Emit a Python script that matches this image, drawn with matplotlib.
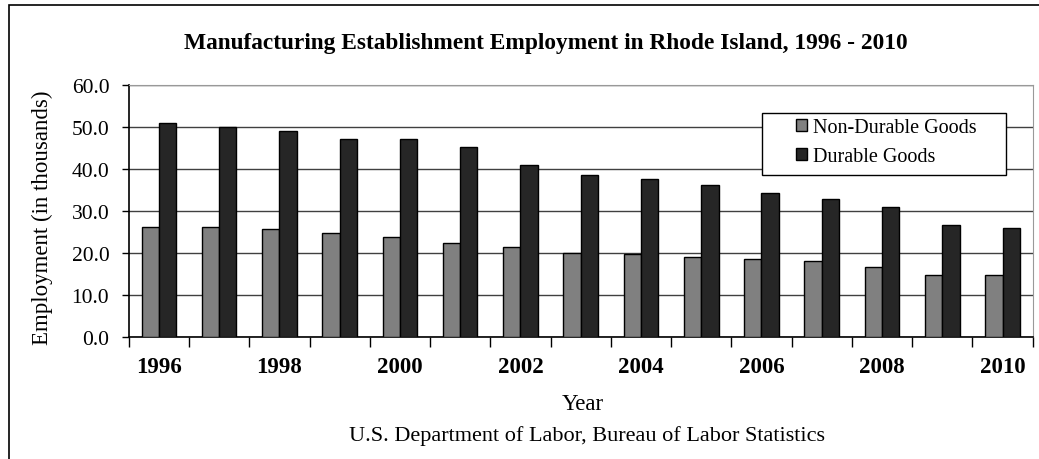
import matplotlib
matplotlib.use("Agg")
import numpy as np
import matplotlib.pyplot as plt
from matplotlib.patches import Rectangle

# Employment (in thousands)
years = [1996, 1997, 1998, 1999, 2000, 2001, 2002, 2003,
         2004, 2005, 2006, 2007, 2008, 2009, 2010]
non_durable = [26.2, 26.2, 25.7, 24.7, 23.8, 22.4, 21.5, 20.0,
               19.6, 19.1, 18.6, 18.1, 16.7, 14.8, 14.8]
durable = [51.0, 50.1, 49.1, 47.2, 47.2, 45.3, 40.9, 38.6,
           37.7, 36.2, 34.3, 32.9, 31.0, 26.7, 25.8]
y_ticks = [0, 10, 20, 30, 40, 50, 60]

plt.rcParams['font.family'] = ['Liberation Serif', 'DejaVu Serif']

fig = plt.figure(figsize=(10.39, 4.6), dpi=100)
ax = fig.add_axes([0.1239, 0.2659, 0.8700, 0.5471])

x = np.arange(len(years))
w = 0.287
ax.bar(x - w / 2, non_durable, w, color='#808080', edgecolor='black',
       linewidth=1, label='Non-Durable Goods', zorder=3)
ax.bar(x + w / 2, durable, w, color='#262626', edgecolor='black',
       linewidth=1, label='Durable Goods', zorder=3)

ax.set_xlim(-0.5, len(years) - 0.5)
ax.set_ylim(0, 60)

# y axis
ax.set_yticks(y_ticks)
ax.set_yticklabels(['%.1f' % v for v in y_ticks], fontsize=15.5)
ax.yaxis.grid(True, color='#404040', linewidth=1, zorder=0)
ax.tick_params(axis='y', direction='out', length=5, width=1, pad=9)

# x axis: tick marks between categories, labels every other year
ax.set_xticks(np.arange(-0.5, len(years), 1.0))
ax.set_xticklabels([])
ax.tick_params(axis='x', which='major', direction='out', length=7, width=1)
ax.set_xticks(x[::2], minor=True)
ax.set_xticklabels([str(y) for y in years[::2]], minor=True,
                   fontsize=16.5, fontweight='bold')
ax.tick_params(axis='x', which='minor', length=0, pad=14)

for side in ['top', 'right']:
    ax.spines[side].set_color('#999999')
for side in ['left', 'bottom']:
    ax.spines[side].set_color('black')
    ax.spines[side].set_linewidth(1.2)

ax.set_ylabel('Employment (in thousands)', fontsize=16.5)
ax.yaxis.set_label_coords(-0.0837, 0.4775)

# legend: entries without frame, box drawn separately (wide side padding)
leg = ax.legend(loc='center', bbox_to_anchor=(0.8378, 0.7723),
                frameon=False, fontsize=14.5, borderaxespad=0,
                handlelength=0.55, handleheight=0.55, handletextpad=0.3,
                borderpad=0, labelspacing=0.5)
leg.set_zorder(6)
for h in leg.legend_handles:
    h.set_edgecolor('black')
ax.add_patch(Rectangle((0.7006, 0.6424), 0.27, 0.2464, transform=ax.transAxes,
                       facecolor='white', edgecolor='black', linewidth=1,
                       zorder=5))

fig.text(546 / 1039, 1 - 43 / 460,
         'Manufacturing Establishment Employment in Rhode Island, 1996 - 2010',
         ha='center', va='center', fontsize=16.8, fontweight='bold')
fig.text(583 / 1039, 1 - 405 / 460, 'Year', ha='center', va='center', fontsize=16.5)
fig.text(587 / 1039, 1 - 436 / 460, 'U.S. Department of Labor, Bureau of Labor Statistics',
         ha='center', va='center', fontsize=16)

# outer chart border (right and bottom edges are cropped in the reference)
fig.patches.append(Rectangle((8.5 / 1039, -0.05), 1.1, 1 - 6 / 460 + 0.05,
                             transform=fig.transFigure, fill=False,
                             edgecolor='black', linewidth=1.2))

plt.savefig('out.png', dpi=100)
